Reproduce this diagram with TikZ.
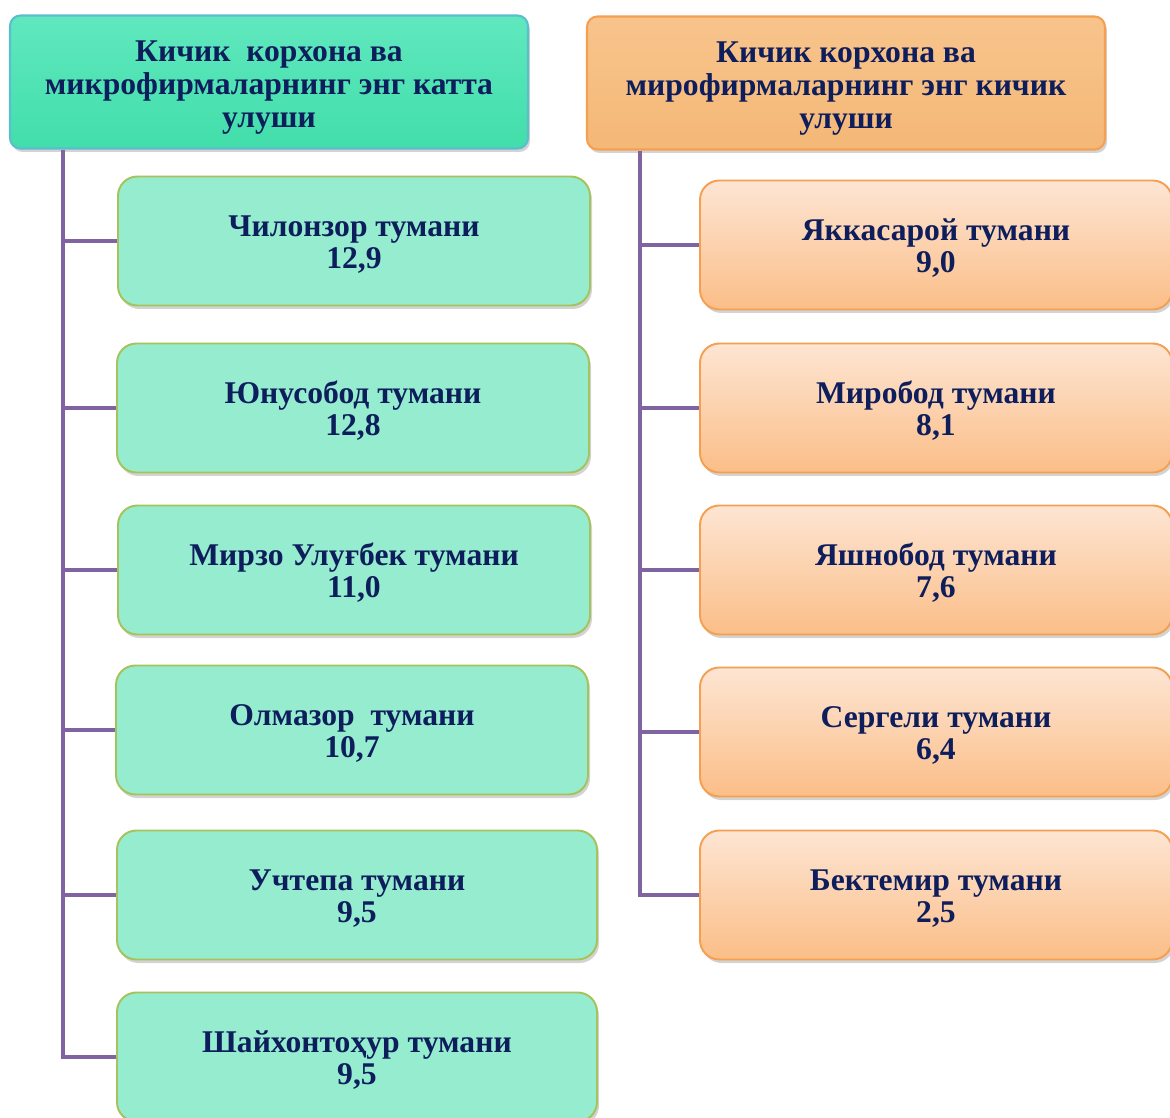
\documentclass[tikz,border=0pt]{standalone}
\usepackage{fontspec}
\setmainfont{Liberation Serif}
\usetikzlibrary{shadows}
\definecolor{navytext}{RGB}{14,30,92}
\definecolor{linkpurple}{RGB}{128,100,162}
\definecolor{tealhead}{RGB}{66,222,170}
\definecolor{tealheadtop}{RGB}{96,232,190}
\definecolor{tealedge}{RGB}{90,190,205}
\definecolor{tealbox}{RGB}{149,236,207}
\definecolor{oliveedge}{RGB}{166,194,90}
\definecolor{orangehead}{RGB}{244,184,119}
\definecolor{orangeheadtop}{RGB}{248,196,140}
\definecolor{orangeedge}{RGB}{245,160,80}
\definecolor{peachtop}{RGB}{253,229,211}
\definecolor{peachbottom}{RGB}{251,190,136}
\newcommand{\headlift}{\rule{0pt}{18pt}}
\newcommand{\boxlift}{\rule{0pt}{16pt}}
\begin{document}
\begin{tikzpicture}[x=0.02cm, y=-0.02cm,
      header/.style ={draw, line width=1.2pt, rounded corners=6pt, minimum width=518*0.02cm,
        minimum height=133*0.02cm, align=center, text=navytext, font=\bfseries\fontsize{18}{18.8}\selectfont,
        drop shadow={opacity=0.35, shadow xshift=0.04cm, shadow yshift=-0.07cm}},
      bigshare/.style ={header, draw=tealedge, top color=tealheadtop, bottom color=tealhead},
      smallshare/.style ={header, draw=orangeedge, top color=orangeheadtop, bottom color=orangehead},
      district/.style ={draw, line width=1.1pt, rounded corners=11pt, minimum width=472*0.02cm,
        minimum height=129*0.02cm, align=center, text=navytext, font=\bfseries\fontsize{18}{18.3}\selectfont,
        drop shadow={opacity=0.35, shadow xshift=0.04cm, shadow yshift=-0.07cm}},
      greenbox/.style ={district, draw=oliveedge, fill=tealbox},
      peachbox/.style ={district, draw=orangeedge, top color=peachtop, bottom color=peachbottom},
      link/.style ={draw=linkpurple, line width=2.4pt}]

   \useasboundingbox (0,0) rectangle (1170,1118);
   \clip (0,0) rectangle (1170,1118);

   \node[bigshare] (bigHead) at (269,82) {\headlift Кичик\ \ корхона ва\\микрофирмаларнинг энг катта\\улуши};
   \node[smallshare] (smallHead) at (846,83) {\headlift Кичик корхона ва\\мирофирмаларнинг энг кичик\\улуши};

   \coordinate (trunkL) at (63,0);
   \coordinate (trunkR) at (640,0);

   \node[greenbox] (chil) at (354,241) {\boxlift Чилонзор тумани\\12,9};
   \node[greenbox] (yunus) at (353,408) {\boxlift Юнусобод тумани\\12,8};
   \node[greenbox] (mirzo) at (354,570) {\boxlift Мирзо Улуғбек тумани\\11,0};
   \node[greenbox] (olmaz) at (352,730) {\boxlift Олмазор\ \ тумани\\10,7};
   \node[greenbox, minimum width=480*0.02cm] (uchte) at (357,895) {\boxlift Учтепа тумани\\9,5};
   \node[greenbox, minimum width=480*0.02cm] (shayx) at (357,1057) {\boxlift Шайхонтоҳур тумани\\9,5};

   \node[peachbox] (yakka) at (936,245) {\boxlift Яккасарой тумани\\9,0};
   \node[peachbox] (mirob) at (936,408) {\boxlift Миробод тумани\\8,1};
   \node[peachbox] (yashn) at (936,570) {\boxlift Яшнобод тумани\\7,6};
   \node[peachbox] (serge) at (936,732) {\boxlift Сергели тумани\\6,4};
   \node[peachbox] (bekte) at (936,895) {\boxlift Бектемир тумани\\2,5};

   \draw[link] (bigHead.south -| trunkL) |- (shayx.west);
   \draw[link] (smallHead.south -| trunkR) |- (bekte.west);

   \draw[link] (trunkL |- chil.west) -- (chil.west);
   \draw[link] (trunkL |- yunus.west) -- (yunus.west);
   \draw[link] (trunkL |- mirzo.west) -- (mirzo.west);
   \draw[link] (trunkL |- olmaz.west) -- (olmaz.west);
   \draw[link] (trunkL |- uchte.west) -- (uchte.west);

   \draw[link] (trunkR |- yakka.west) -- (yakka.west);
   \draw[link] (trunkR |- mirob.west) -- (mirob.west);
   \draw[link] (trunkR |- yashn.west) -- (yashn.west);
   \draw[link] (trunkR |- serge.west) -- (serge.west);
 \end{tikzpicture}
\end{document}
